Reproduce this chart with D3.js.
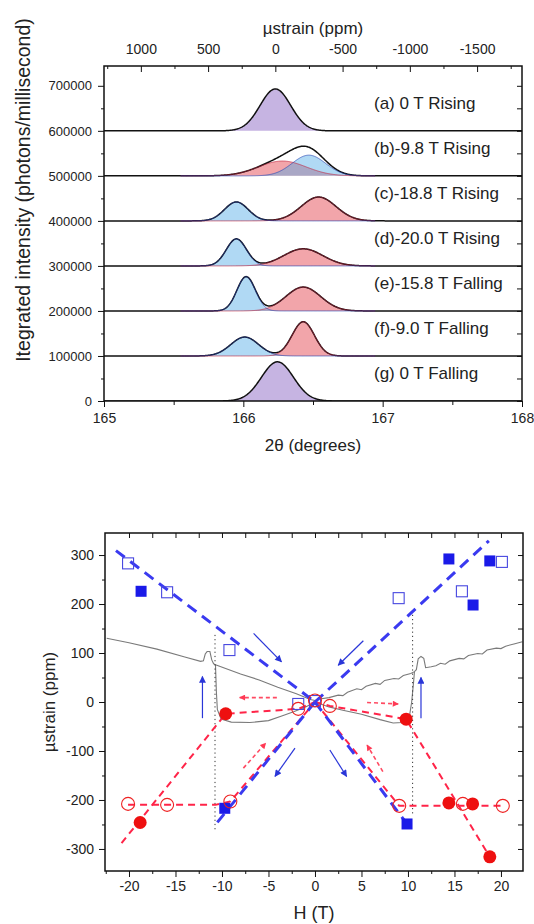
<!DOCTYPE html>
<html>
<head>
<meta charset="utf-8">
<script src="https://cdn.jsdelivr.net/npm/d3@7"></script>
<style>
  body { margin: 0; background: #fff; }
  svg text { font-family: "Liberation Sans", Arial, Helvetica, sans-serif; fill: #222; }
</style>
</head>
<body>
<svg id="fig" width="534" height="924"></svg>
<script>
// ---------- Upper panel: diffraction peaks, stacked by field step ----------
const panelLabels = ["(a) 0 T Rising", "(b)-9.8 T Rising", "(c)-18.8 T Rising", "(d)-20.0 T Rising",
                     "(e)-15.8 T Falling", "(f)-9.0 T Falling", "(g) 0 T Falling"];
const panelOffsets = [600000, 500000, 400000, 300000, 200000, 100000, 0];
// fitted peak components: [centre 2θ (deg), height (photons/ms), sigma (deg)]
const singlePeak = [[166.23, 93000, 0.11], null, null, null, null, null, [166.245, 87000, 0.115]];
const bluePeak = [null, [166.47, 46000, 0.12], [165.95, 42000, 0.085], [165.95, 60000, 0.072],
                  [166.02, 76000, 0.066], [166.01, 42000, 0.10], null];
const redPeak = [null, [166.28, 33000, 0.17], [166.54, 53000, 0.125], [166.43, 38000, 0.14],
                 [166.43, 53000, 0.125], [166.43, 76000, 0.08], null];
const twoThetaTicks = [165, 166, 167, 168];
const intensityTicks = [0, 100000, 200000, 300000, 400000, 500000, 600000, 700000];
const strainTopTicks = [1000, 500, 0, -500, -1000, -1500];

// ---------- Lower panel: strain vs field ----------
const filledSquares = [[-18.7, 226], [14.4, 292], [18.8, 288], [17.0, 198], [-9.7, -217], [9.9, -249]];
const openSquares = [[-20.1, 283], [-15.9, 224], [-9.2, 106], [9.0, 212], [15.8, 226], [20.1, 286], [0, 2], [-1.8, -4]];
const filledCircles = [[-9.6, -24], [9.8, -35], [-18.8, -246], [14.4, -206], [16.95, -208], [18.8, -316]];
const openCircles = [[-20.1, -208], [-15.9, -210], [-9.1, -203], [9.06, -212], [15.9, -208], [20.2, -212],
                     [-1.8, -14], [1.6, -8], [0, 3]];
// measured magnetostriction (gray trace)
const traceUpper = [[-22.4, 130], [-20, 121], [-17, 108], [-14, 92], [-12.3, 83], [-12.0, 84], [-11.8, 98],
  [-11.6, 103], [-11.3, 103], [-11.1, 86], [-10.9, 78], [-10.7, 76], [-8, 57], [-6, 45], [-4, 30], [-2, 17],
  [-0.5, 5], [0, 3], [0.5, 6], [1.5, 9], [2.5, 14], [3.0, 13], [3.5, 20], [4.5, 27], [5.0, 25], [5.5, 32],
  [6.5, 38], [7.0, 36], [7.5, 44], [8.5, 48], [9.0, 47], [9.5, 54], [10.3, 58], [10.7, 62], [10.9, 66],
  [11.1, 88], [11.4, 93], [11.7, 89], [11.9, 70], [12.5, 72], [13.0, 74], [13.5, 79], [14.0, 77], [14.5, 84],
  [15.5, 89], [16.0, 88], [16.5, 95], [17.5, 99], [18.0, 98], [18.5, 106], [19.5, 110], [20.0, 109],
  [20.5, 114], [21.5, 119], [22.3, 123]];
const traceLowerLeft = [[-10.7, 76], [-10.6, 20], [-10.5, -15], [-10.1, -35], [-9, -41], [-7, -42], [-5, -38],
  [-3.5, -28], [-2.3, -20], [-1, -10], [0, 0]];
const traceLowerRight = [[0, 0], [1.5, -10], [3, -17], [5, -25], [7, -36], [8.4, -43], [9.4, -42], [10.1, -36],
  [10.4, 0], [10.6, 40], [10.7, 62]];
const transitionField = [-10.75, 10.5];
const transitionTop = [137, 178];
const transitionBottom = [-262, -232];
const blueGuides = [
  [[-21.4, 309], [0, 0]],
  [[0, 0], [18.7, 329]],
  [[0, 0], [-10.6, -248]],
  [[0, 0], [9.9, -249]]
];
const redGuides = [
  [[-20.8, -288], [-9.6, -24], [-1.8, -14], [0, 0]],
  [[-20.1, -210], [-10.7, -210], [-9.1, -203], [0, 0]],
  [[0, 0], [1.6, -8], [9.8, -35], [18.8, -316]],
  [[0, 0], [9.06, -212], [20.2, -212]]
];
const blueArrows = [
  [[-12.1, -33], [-12.1, 52]],
  [[11.4, -33], [11.4, 50]],
  [[-6.6, 140], [-3.6, 82]],
  [[5.2, 125], [2.5, 75]],
  [[-2.15, -94], [-4.3, -152]],
  [[1.6, -98], [3.4, -152]]
];
const redArrows = [
  [[-4.1, 9], [-8.1, 9]],
  [[5.6, -1], [8.95, -4]],
  [[-7.7, -135], [-5.3, -84]],
  [[7.3, -142], [5.6, -88]]
];
const fieldTicks = [-20, -15, -10, -5, 0, 5, 10, 15, 20];
const strainTicks = [-300, -200, -100, 0, 100, 200, 300];

// ---------- drawing ----------
const svg = d3.select("#fig");
const fmt = d => String(d);

function styleAxis(g, size) {
  g.attr("font-size", size).attr("font-family", '"Liberation Sans", Arial, sans-serif').attr("color", "#111");
  g.select(".domain").remove();
  g.selectAll(".tick line").attr("stroke-width", 1);
}

// ===== upper panel =====
const tx = d3.scaleLinear().domain([165, 168]).range([104, 522]);
const ty = d3.scaleLinear().domain([0, 744000]).range([401, 66]);
const sx = d3.scaleLinear().domain([1274, -1834]).range([104, 522]);

const gauss = (p, t) => p ? p[1] * Math.exp(-((t - p[0]) ** 2) / (2 * p[2] * p[2])) : 0;
const grid = d3.range(165, 168.0001, 0.004);
const compGrid = d3.range(165.55, 166.95, 0.004);

const upper = svg.append("g");
svg.append("clipPath").attr("id", "clipTop")
  .append("rect").attr("x", 104).attr("y", 66).attr("width", 418).attr("height", 335);
const plotTop = upper.append("g").attr("clip-path", "url(#clipTop)");

panelLabels.forEach((lab, i) => {
  const off = panelOffsets[i];
  const comps = [
    { p: redPeak[i], fill: "rgb(242,165,170)", op: 1, stroke: "#c0203a" },
    { p: bluePeak[i], fill: "rgb(80,170,230)", op: 0.45, stroke: "#1f3fb0" },
    { p: singlePeak[i], fill: "rgb(198,180,226)", op: 1, stroke: "#5a3a80" }
  ];
  comps.forEach(c => {
    if (!c.p) return;
    const area = d3.area().x(t => tx(t)).y0(ty(off)).y1(t => ty(off + gauss(c.p, t)));
    plotTop.append("path").datum(grid).attr("d", area).attr("fill", c.fill).attr("fill-opacity", c.op);
  });
  const total = d3.line().x(t => tx(t))
    .y(t => ty(off + gauss(singlePeak[i], t) + gauss(bluePeak[i], t) + gauss(redPeak[i], t)));
  plotTop.append("path").datum(grid).attr("d", total).attr("fill", "none")
    .attr("stroke", "#111").attr("stroke-width", 1.5);
  comps.forEach(c => {
    if (!c.p || c.p === singlePeak[i]) return;
    const ln = d3.line().x(t => tx(t)).y(t => ty(off + gauss(c.p, t)));
    plotTop.append("path").datum(compGrid).attr("d", ln).attr("fill", "none")
      .attr("stroke", c.stroke).attr("stroke-width", 0.8).attr("stroke-opacity", 0.8);
  });
  upper.append("text").attr("x", 374).attr("y", ty(off) - 28 + 6).attr("font-size", 17).text(lab);
});

// axes (upper)
upper.append("g").attr("transform", "translate(104,0)")
  .call(d3.axisLeft(ty).tickValues(intensityTicks).tickSize(6).tickPadding(6).tickFormat(fmt))
  .call(g => styleAxis(g, 13));
upper.append("g").attr("transform", "translate(104,0)")
  .call(d3.axisLeft(ty).tickValues(d3.range(50000, 744000, 100000)).tickSize(3).tickFormat(""))
  .call(g => styleAxis(g, 13));
upper.append("g").attr("transform", "translate(522,0)")
  .call(d3.axisRight(ty).tickValues(d3.range(0, 744000, 50000)).tickSize(-5).tickFormat(""))
  .call(g => styleAxis(g, 13));
upper.append("g").attr("transform", "translate(0,401)")
  .call(d3.axisBottom(tx).tickValues(twoThetaTicks).tickSize(6).tickPadding(6).tickFormat(fmt))
  .call(g => styleAxis(g, 14));
upper.append("g").attr("transform", "translate(0,401)")
  .call(d3.axisBottom(tx).tickValues([165.5, 166.5, 167.5]).tickSize(4).tickFormat(""))
  .call(g => styleAxis(g, 14));
upper.append("g").attr("transform", "translate(0,66)")
  .call(d3.axisTop(sx).tickValues(strainTopTicks).tickSize(-6).tickPadding(12).tickFormat(fmt))
  .call(g => styleAxis(g, 14));
upper.append("g").attr("transform", "translate(0,66)")
  .call(d3.axisTop(sx).tickValues([1250, 750, 250, -250, -750, -1250, -1750]).tickSize(-3).tickFormat(""))
  .call(g => styleAxis(g, 14));
upper.append("rect").attr("x", 104).attr("y", 66).attr("width", 418).attr("height", 335)
  .attr("fill", "none").attr("stroke", "#111").attr("stroke-width", 1.5);
upper.append("text").attr("x", 313).attr("y", 34).attr("text-anchor", "middle").attr("font-size", 17)
  .text("\u00b5strain (ppm)");
upper.append("text").attr("x", 313).attr("y", 451).attr("text-anchor", "middle").attr("font-size", 17)
  .text("2\u03b8 (degrees)");
upper.append("text").attr("transform", "translate(30,190) rotate(-90)").attr("text-anchor", "middle")
  .attr("font-size", 19.5).text("Itegrated intensity (photons/millisecond)");

// ===== lower panel =====
const hx = d3.scaleLinear().domain([-22.58, 22.37]).range([105, 523]);
const hy = d3.scaleLinear().domain([-345, 345]).range([871, 533]);
const lower = svg.append("g");
svg.append("clipPath").attr("id", "clipBot")
  .append("rect").attr("x", 105).attr("y", 533).attr("width", 418).attr("height", 338);
const plot = lower.append("g").attr("clip-path", "url(#clipBot)");
const pline = d3.line().x(d => hx(d[0])).y(d => hy(d[1]));

const defs = svg.append("defs");
defs.append("marker").attr("id", "headBlue").attr("viewBox", "0 0 10 10").attr("refX", 9).attr("refY", 5)
  .attr("markerWidth", 9).attr("markerHeight", 7).attr("markerUnits", "userSpaceOnUse").attr("orient", "auto")
  .append("path").attr("d", "M0,0 L10,5 L0,10 Z").attr("fill", "#2a36d8");
defs.append("marker").attr("id", "headRed").attr("viewBox", "0 0 10 10").attr("refX", 9).attr("refY", 5)
  .attr("markerWidth", 8).attr("markerHeight", 6).attr("markerUnits", "userSpaceOnUse").attr("orient", "auto")
  .append("path").attr("d", "M0,0 L10,5 L0,10 Z").attr("fill", "#ff3a55");

// gray trace
[traceUpper, traceLowerLeft, traceLowerRight].forEach(tr => {
  plot.append("path").datum(tr).attr("d", pline).attr("fill", "none")
    .attr("stroke", "#7a7a7a").attr("stroke-width", 1.1);
});
// dotted transition markers
transitionField.forEach((h, i) => {
  plot.append("line").attr("x1", hx(h)).attr("x2", hx(h))
    .attr("y1", hy(transitionTop[i])).attr("y2", hy(transitionBottom[i]))
    .attr("stroke", "#333").attr("stroke-width", 1).attr("stroke-dasharray", "1.2,3");
});
// dashed guides
redGuides.forEach(g => plot.append("path").datum(g).attr("d", pline).attr("fill", "none")
  .attr("stroke", "#ff2448").attr("stroke-width", 2).attr("stroke-dasharray", "7,5"));
blueGuides.forEach(g => plot.append("path").datum(g).attr("d", pline).attr("fill", "none")
  .attr("stroke", "#3a3af0").attr("stroke-width", 3).attr("stroke-dasharray", "11,7"));
// arrows
redArrows.forEach(a => plot.append("path").datum(a).attr("d", pline).attr("fill", "none")
  .attr("stroke", "#ff4a62").attr("stroke-width", 1.6).attr("stroke-dasharray", "4,3")
  .attr("marker-end", "url(#headRed)"));
blueArrows.forEach(a => plot.append("path").datum(a).attr("d", pline).attr("fill", "none")
  .attr("stroke", "#2a36d8").attr("stroke-width", 1.2).attr("marker-end", "url(#headBlue)"));

// symbols
const sq = 11;
plot.selectAll(".osq").data(openSquares).join("rect")
  .attr("x", d => hx(d[0]) - sq / 2).attr("y", d => hy(d[1]) - sq / 2).attr("width", sq).attr("height", sq)
  .attr("fill", "none").attr("stroke", "#4848e0").attr("stroke-width", 1.1);
plot.selectAll(".fsq").data(filledSquares).join("rect")
  .attr("x", d => hx(d[0]) - sq / 2).attr("y", d => hy(d[1]) - sq / 2).attr("width", sq).attr("height", sq)
  .attr("fill", "#1a1ae8");
plot.selectAll(".fci").data(filledCircles).join("circle")
  .attr("cx", d => hx(d[0])).attr("cy", d => hy(d[1])).attr("r", 6.5).attr("fill", "#ee1010");
plot.selectAll(".oci").data(openCircles).join("circle")
  .attr("cx", d => hx(d[0])).attr("cy", d => hy(d[1])).attr("r", 6.5)
  .attr("fill", "none").attr("stroke", "#ee2222").attr("stroke-width", 1.1);

// axes (lower)
lower.append("g").attr("transform", "translate(105,0)")
  .call(d3.axisLeft(hy).tickValues(strainTicks).tickSize(6).tickPadding(5).tickFormat(fmt))
  .call(g => styleAxis(g, 14));
lower.append("g").attr("transform", "translate(105,0)")
  .call(d3.axisLeft(hy).tickValues([-250, -150, -50, 50, 150, 250]).tickSize(3).tickFormat(""))
  .call(g => styleAxis(g, 14));
lower.append("g").attr("transform", "translate(523,0)")
  .call(d3.axisRight(hy).tickValues(d3.range(-300, 301, 50)).tickSize(-5).tickFormat(""))
  .call(g => styleAxis(g, 14));
lower.append("g").attr("transform", "translate(0,871)")
  .call(d3.axisBottom(hx).tickValues(fieldTicks).tickSize(6).tickPadding(4).tickFormat(fmt))
  .call(g => styleAxis(g, 14));
lower.append("g").attr("transform", "translate(0,871)")
  .call(d3.axisBottom(hx).tickValues([-22.5, -17.5, -12.5, -7.5, -2.5, 2.5, 7.5, 12.5, 17.5]).tickSize(3).tickFormat(""))
  .call(g => styleAxis(g, 14));
lower.append("g").attr("transform", "translate(0,533)")
  .call(d3.axisTop(hx).tickValues(d3.range(-20, 21, 2.5)).tickSize(-5).tickFormat(""))
  .call(g => styleAxis(g, 14));
lower.append("rect").attr("x", 105).attr("y", 533).attr("width", 418).attr("height", 338)
  .attr("fill", "none").attr("stroke", "#111").attr("stroke-width", 1.5);
lower.append("text").attr("x", 314).attr("y", 919).attr("text-anchor", "middle").attr("font-size", 18)
  .text("H (T)");
lower.append("text").attr("transform", "translate(55,702) rotate(-90)").attr("text-anchor", "middle")
  .attr("font-size", 17).text("\u00b5strain (ppm)");
</script>
</body>
</html>
